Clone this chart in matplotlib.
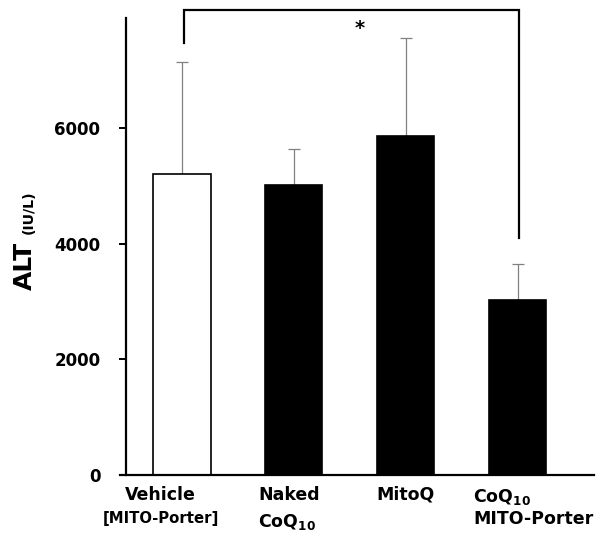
import matplotlib
matplotlib.use("Agg")
import matplotlib.pyplot as plt

plt.rcParams['font.family'] = ['DejaVu Sans']
plt.rcParams['mathtext.fontset'] = 'dejavusans'

groups = ["Vehicle", "Naked CoQ10", "MitoQ", "CoQ10 MITO-Porter"]
means = [5200, 5010, 5860, 3025]
errors = [1940, 620, 1700, 620]
fills = ["white", "black", "black", "black"]
yticks = [0, 2000, 4000, 6000]

fig = plt.figure(figsize=(6.06, 5.33), dpi=100)
ax = fig.add_axes([126/606, 1-475/533, (594-126)/606, (475-18)/533])

x = list(range(len(groups)))
ax.bar(x, means, width=0.51, color=fills, edgecolor="black", linewidth=1.2, zorder=2)
ax.errorbar(x, means, yerr=[[0]*4, errors], fmt="none", ecolor="#808080",
            elinewidth=0.9, capsize=4, capthick=0.9, zorder=1)

ax.set_xlim(-0.5, 3.68)
ax.set_ylim(0, 7900)
ax.set_yticks(yticks)
ax.set_yticklabels([str(t) for t in yticks], fontsize=12, fontweight="bold")
ax.set_xticks([])
for s in ["top", "right"]:
    ax.spines[s].set_visible(False)
ax.spines["left"].set_linewidth(1.6)
ax.spines["bottom"].set_linewidth(1.6)
ax.spines["bottom"].set_bounds(-0.55, 3.68)
ax.tick_params(axis="y", direction="out", length=5, width=1.4, pad=13.5)

# significance bracket
bx0, bx1 = 0.02, 3.01
ax.plot([bx0, bx0, bx1, bx1], [7470, 8040, 8040, 4100], color="black",
        linewidth=1.6, clip_on=False, solid_joinstyle="miter")
ax.text(1.59, 7720, "*", ha="center", va="center", fontsize=14, fontweight="bold")

# x labels
tk = dict(transform=ax.get_xaxis_transform(), fontweight="bold", clip_on=False)
def yax(py):
    return (475 - py) / (475 - 18)
ax.text(-0.19, yax(495), "Vehicle", ha="center", va="center", fontsize=12.5, **tk)
ax.text(-0.19, yax(519), "[MITO-Porter]", ha="center", va="center", fontsize=10.7, **tk)
ax.text(0.68, yax(495), "Naked", ha="left", va="center", fontsize=12.5, **tk)
ax.text(0.68, yax(522), r"CoQ$_{\mathbf{10}}$", ha="left", va="center", fontsize=12.5, **tk)
ax.text(2.0, yax(495), "MitoQ", ha="center", va="center", fontsize=12.5, **tk)
ax.text(2.60, yax(497), r"CoQ$_{\mathbf{10}}$", ha="left", va="center", fontsize=12.5, **tk)
ax.text(2.60, yax(519), "MITO-Porter", ha="left", va="center", fontsize=12.5, **tk)

# y label
fig.text(25/606, 1-266/533, "ALT", rotation=90, ha="center", va="center",
         fontsize=18, fontweight="bold")
fig.text(28.5/606, 1-212/533, "(IU/L)", rotation=90, ha="center", va="center",
         fontsize=10.2, fontweight="bold")

fig.savefig("out.png", dpi=100)
